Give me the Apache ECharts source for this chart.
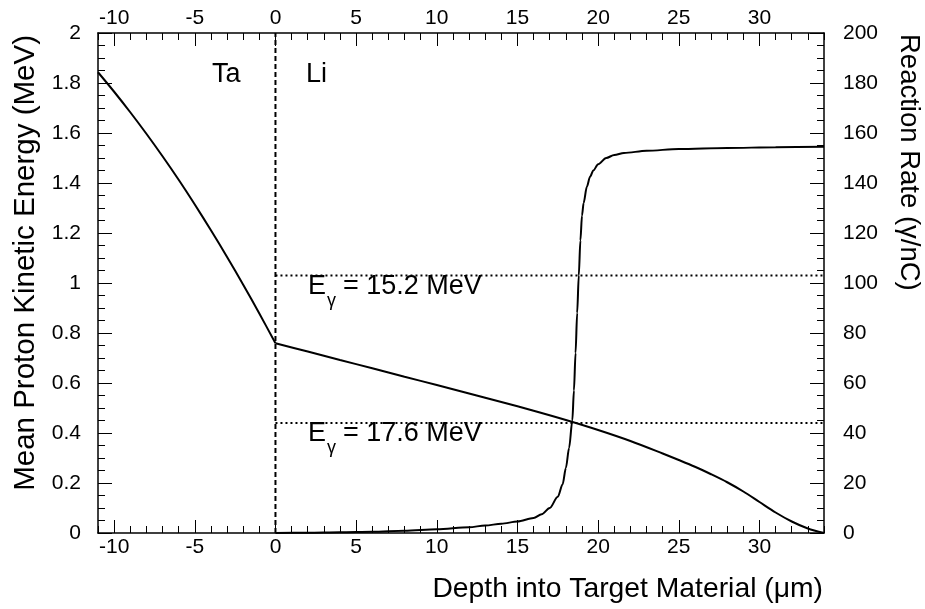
<!DOCTYPE html>
<html>
<head>
<meta charset="utf-8">
<script src="https://cdn.jsdelivr.net/npm/echarts@6/dist/echarts.min.js"></script>
<style>
html,body{margin:0;padding:0;background:#fff;}
#chart{width:925px;height:609px;}
</style>
</head>
<body>
<div id="chart"></div>
<script>
// ---- data ----
const taDepth  = [-11, -10, -9, -8, -7, -6, -5, -4, -3, -2, -1, 0];
const taEnergy = [1.843, 1.765, 1.683, 1.597, 1.507, 1.413, 1.314, 1.211, 1.104, 0.993, 0.878, 0.759];

const liDepth  = [0, 2, 4, 6, 8, 10, 12, 14, 16, 18, 20, 22, 24, 25, 26, 27, 28, 29, 30, 31, 32, 33, 34];
const liEnergy = [0.759, 0.726, 0.692, 0.659, 0.625, 0.592, 0.558, 0.524, 0.489, 0.452, 0.412, 0.368, 0.318, 0.292, 0.265, 0.235, 0.203, 0.166, 0.124, 0.082, 0.046, 0.018, 0.0];

const rateDepth = [0, 2, 4, 6, 8, 10, 12, 13, 14, 15, 16, 16.5, 17, 17.5, 17.8, 18, 18.2, 18.4, 18.5, 18.6, 18.7, 18.8, 18.9, 19, 19.1, 19.3, 19.5, 19.7, 20, 20.5, 21, 21.6, 23, 25, 28, 31, 34];
const rateValue = [0, 0.1, 0.3, 0.5, 0.9, 1.5, 2.3, 3, 3.7, 4.6, 6.0, 7.5, 10, 14.5, 19.5, 26, 34, 45, 57, 72, 88, 103, 117, 127, 132, 138.5, 142.5, 145, 147.5, 150, 151.2, 152, 152.9, 153.6, 154, 154.3, 154.5];

const boundaryDepth = 0;               // Ta / Li interface
const thresholdEnergy = [1.03, 0.44];  // E_gamma = 15.2 MeV, 17.6 MeV resonances
const thresholdLabels = ['15.2 MeV', '17.6 MeV'];
const depthRange = [-11, 34];
const energyRange = [0, 2];
const rateRange = [0, 200];
const xMajorTicks = [-10, -5, 0, 5, 10, 15, 20, 25, 30];

// ---- chart ----
const FONT = '"Liberation Sans", Arial, Helvetica, sans-serif';
const black = '#000';
const chart = echarts.init(document.getElementById('chart'), null, {renderer: 'canvas'});

function xAxisDef(position, major) {
  return {
    type: 'value', position: position, min: depthRange[0], max: depthRange[1], interval: 1,
    axisLine: {show: !major, onZero: false, lineStyle: {color: black, width: 1.5}},
    axisTick: major ? {show: true, inside: true, length: 13, customValues: xMajorTicks, lineStyle: {color: black, width: 1}}
                    : {show: true, inside: true, length: 7, lineStyle: {color: black, width: 1}},
    axisLabel: major ? {show: false} : {show: true, customValues: xMajorTicks, color: black, fontSize: 21, fontFamily: FONT, margin: 4},
    splitLine: {show: false}
  };
}

function yAxisDef(position, range, interval) {
  return {
    type: 'value', position: position, min: range[0], max: range[1], interval: interval,
    axisLine: {show: true, onZero: false, lineStyle: {color: black, width: 1.5}},
    axisTick: {show: true, inside: true, length: 14, lineStyle: {color: black, width: 1}},
    minorTick: {show: true, splitNumber: 4, length: 7, lineStyle: {color: black, width: 1}},
    axisLabel: {show: true, color: black, fontSize: 21, fontFamily: FONT, margin: position === 'left' ? 17 : 19},
    splitLine: {show: false}, minorSplitLine: {show: false}
  };
}

const lineStyle = {color: black, width: 2};

const series = [
  {
    type: 'line', name: 'Ta', xAxisIndex: 0, yAxisIndex: 0, showSymbol: false, smooth: 0.3,
    data: taDepth.map((d, i) => [d, taEnergy[i]]), lineStyle: lineStyle, z: 5
  },
  {
    type: 'line', name: 'Li', xAxisIndex: 0, yAxisIndex: 0, showSymbol: false, smooth: 0.3,
    data: liDepth.map((d, i) => [d, liEnergy[i]]), lineStyle: lineStyle, z: 5
  },
  {
    type: 'line', name: 'Rate', xAxisIndex: 0, yAxisIndex: 1, showSymbol: false, smooth: 0.3, smoothMonotone: 'x',
    data: rateDepth.map((d, i) => [d, rateValue[i]]), lineStyle: lineStyle, z: 5
  },
  {
    type: 'line', name: 'boundary', xAxisIndex: 0, yAxisIndex: 0, showSymbol: false,
    data: [[boundaryDepth, energyRange[0]], [boundaryDepth, energyRange[1]]],
    lineStyle: {color: black, width: 2, type: [5, 3]}, z: 4
  }
].concat(thresholdEnergy.map(e => ({
  type: 'line', xAxisIndex: 0, yAxisIndex: 0, showSymbol: false,
  data: [[boundaryDepth, e], [depthRange[1], e]],
  lineStyle: {color: black, width: 1.8, type: [2, 3]}, z: 3
})));

const textStyle = (t, size) => ({text: t, fill: black, font: size + 'px ' + FONT});

const graphics = [
  {type: 'text', x: 26, y: 35, rotation: Math.PI / 2,
   style: Object.assign(textStyle('Mean Proton Kinetic Energy (MeV)', 29.5), {textAlign: 'right', textVerticalAlign: 'middle'})},
  {type: 'text', x: 909, y: 34, rotation: -Math.PI / 2,
   style: Object.assign(textStyle('Reaction Rate (\u03B3/nC)', 27.5), {textAlign: 'left', textVerticalAlign: 'middle'})},
  {type: 'text', x: 823, y: 589,
   style: Object.assign(textStyle('Depth into Target Material (\u03BCm)', 28.3), {textAlign: 'right', textVerticalAlign: 'middle'})},
  {type: 'text', x: 212, y: 75, style: Object.assign(textStyle('Ta', 27), {textAlign: 'left', textVerticalAlign: 'middle'})},
  {type: 'text', x: 306, y: 75, style: Object.assign(textStyle('Li', 27), {textAlign: 'left', textVerticalAlign: 'middle'})}
];
const labelYs = [287, 434];
thresholdLabels.forEach((lab, i) => {
  const y = labelYs[i];
  graphics.push({type: 'text', x: 308, y: y, style: Object.assign(textStyle('E', 27), {textAlign: 'left', textVerticalAlign: 'middle'})});
  graphics.push({type: 'text', x: 327, y: y + 14, style: Object.assign(textStyle('\u03B3', 18), {textAlign: 'left', textVerticalAlign: 'middle'})});
  graphics.push({type: 'text', x: 343, y: y, style: Object.assign(textStyle('= ' + lab, 27), {textAlign: 'left', textVerticalAlign: 'middle'})});
});

chart.setOption({
  backgroundColor: '#fff',
  animation: false,
  grid: {left: 98, right: 101, top: 33, bottom: 76, containLabel: false},
  xAxis: [xAxisDef('bottom', false), xAxisDef('bottom', true), xAxisDef('top', false), xAxisDef('top', true)],
  yAxis: [yAxisDef('left', energyRange, 0.2), yAxisDef('right', rateRange, 20)],
  series: series,
  graphic: graphics
});
</script>
</body>
</html>
